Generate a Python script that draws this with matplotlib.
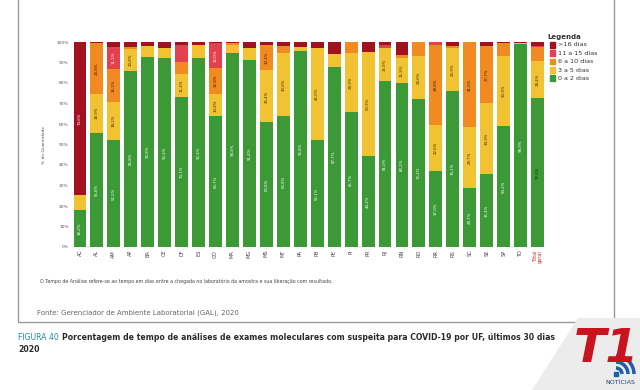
import matplotlib
matplotlib.use("Agg")
import matplotlib.pyplot as plt
from matplotlib.patches import Rectangle, Polygon, Arc
import numpy as np

states = ['AC','AL','AM','AP','BA','CE','DF','ES','GO','MA','MG','MS','MT','PA',
          'PB','PE','PI','PR','RJ','RN','RO','RR','RS','SC','SE','SP','TO','Total\ngeral']
d0_2  = [18.2,55.8,52.3,85.8,92.8,92.4,73.1,92.4,63.7,94.4,91.4,60.8,63.8,95.8,
         52.1,87.7,65.7,44.2,81.0,80.2,72.4,37.0,76.1,28.7,35.4,59.2,98.9,72.5]
d3_5  = [7.2,18.9,18.2,10.8,5.2,4.6,11.4,6.2,10.8,4.1,5.8,25.4,30.6,1.6,
         45.0,6.5,28.9,50.9,15.9,11.9,20.6,22.6,20.9,29.7,34.9,33.9,0.8,18.4]
d6_10 = [0,24.8,16.1,0.8,0,0,5.6,0,12.8,0.8,0,12.4,3.8,0,
         0,0,5.4,0,0,1.6,7.0,38.8,1.2,41.6,27.7,6.6,0,6.8]
d11_15 = [0,0,11.1,0,0,0,8.2,0,12.0,0,0,0,0,0,
          0,0,0,0,1.5,0,0,1.6,0,0,0,0,0,0.4]
d16   = [74.6,0.5,2.3,2.6,2.0,3.0,1.7,1.4,0.7,0.7,2.8,1.4,1.8,2.6,
         2.9,5.8,0,4.9,1.6,6.3,0,0,1.8,0,2.0,0.3,0.3,1.9]
series_names = ['0 a 2 dias','3 a 5 dias','6 a 10 dias','11 a 15 dias','>16 dias']
series = [d0_2, d3_5, d6_10, d11_15, d16]
colors = ['#3b9a36', '#f1c232', '#f28a22', '#e5404d', '#a3101f']
label_colors = ['white', '#3a3000', '#3a2000', 'white', 'white']
yticks = [0,10,20,30,40,50,60,70,80,90,100]
ytick_labels = [f"{t}%" for t in yticks]

W, H = 640, 390
fig = plt.figure(figsize=(6.4, 3.9), dpi=100)
fig.patch.set_facecolor('white')

def fx(x): return x / W
def fy(y): return 1 - y / H

# frame box
fig.patches.append(Rectangle((fx(18), fy(322)), fx(614) - fx(18), fy(-5) - fy(322),
                             transform=fig.transFigure, fill=False, edgecolor='#9a9a9a', lw=1.0))

ax = fig.add_axes([fx(71.5), fy(247), fx(546) - fx(71.5), fy(42) - fy(247)])
x = np.arange(len(states))
bottom = np.zeros(len(states))
for k, (vals, c) in enumerate(zip(series, colors)):
    vals = np.array(vals)
    ax.bar(x, vals, bottom=bottom, width=0.76, color=c, edgecolor='none')
    for i, v in enumerate(vals):
        if v >= 10:
            tc = label_colors[k]
            if i == len(states) - 1 and k == 0:
                tc = '#102000'
            ax.text(x[i], bottom[i] + v / 2, f"{v:.1f}%".replace('.', ','),
                    rotation=90, ha='center', va='center', fontsize=2.8, color=tc)
    bottom += vals

ax.set_xlim(-0.5, len(states) - 0.5)
ax.set_ylim(0, 100)
ax.set_yticks(yticks)
ax.set_yticklabels(ytick_labels, fontsize=3.2, color='#555555')
ax.set_xticks(x)
ax.set_xticklabels(states, rotation=90, fontsize=3.6, color='#444444', linespacing=0.9)
ax.get_xticklabels()[-1].set_color('#d62a2a')
ax.tick_params(axis='both', length=0, pad=2)
for s in ax.spines.values():
    s.set_visible(False)
ax.set_ylabel('% de Quantidade', fontsize=3.2, color='#555555', labelpad=8)

# legend
fig.text(fx(547), fy(37), 'Legenda', fontsize=5, fontweight='bold', color='#333333',
         va='center', ha='left')
leg_y = [45, 53.3, 61.7, 70, 78.3]
for yy, name, c in zip(leg_y, series_names[::-1], colors[::-1]):
    fig.patches.append(Rectangle((fx(549.5), fy(yy + 2.6)), fx(5.5), fx(5.5) * W / H,
                                 transform=fig.transFigure, color=c))
    fig.text(fx(558), fy(yy), name, fontsize=4.6, color='#333333', va='center', ha='left')

# notes
fig.text(fx(40), fy(281), 'O Tempo de Análise refere-se ao tempo em dias entre a chegada no laboratório '
         'da amostra e sua liberação com resultado.', fontsize=3.4, color='#444444', va='center')
fig.text(fx(37), fy(313), 'Fonte: Gerenciador de Ambiente Laboratorial (GAL), 2020',
         fontsize=5.0, color='#666666', va='center', family='Liberation Sans Narrow')

# watermark logo background
fig.patches.append(Polygon([(fx(532), fy(390)), (fx(578), fy(318)), (fx(640), fy(318)),
                            (fx(640), fy(390))], closed=True, transform=fig.transFigure,
                           facecolor='#ececec', edgecolor='none'))

# caption
cap_font = 'Liberation Sans Narrow'
cap_size = 5.6
t1 = fig.text(fx(18), fy(337), 'FIGURA 40', fontsize=cap_size, color='#1f8fa0', va='center',
              family=cap_font)
fig.canvas.draw()
bb = t1.get_window_extent()
fig.text(fx(bb.x1 + 3), fy(337),
         'Porcentagem de tempo de análises de exames moleculares com suspeita para COVID-19 por UF, últimos 30 dias',
         fontsize=cap_size, fontweight='bold', color='#2b2b2b', va='center', family=cap_font)
fig.text(fx(18), fy(350), '2020', fontsize=cap_size, fontweight='bold', color='#2b2b2b',
         va='center', family=cap_font)

# watermark logo
fig.text(fx(606), fy(350), 'T1', fontsize=34, fontweight='bold', style='italic',
         color='#c8141e', ha='center', va='center', family='DejaVu Sans')
for r in [6, 12, 18]:
    fig.patches.append(Arc((fx(616), fy(374)), fx(2 * r), fx(2 * r) * W / H, theta1=0, theta2=90,
                           transform=fig.transFigure, color='#1f5fa8', lw=2.5))
fig.patches.append(Rectangle((fx(614), fy(376)), fx(4), fx(4) * W / H,
                             transform=fig.transFigure, color='#1f5fa8'))
fig.text(fx(620), fy(383), 'NOTÍCIAS', fontsize=4.5, color='#1f3f70', ha='center', va='center')

fig.savefig('out.png', dpi=100, facecolor='white')
